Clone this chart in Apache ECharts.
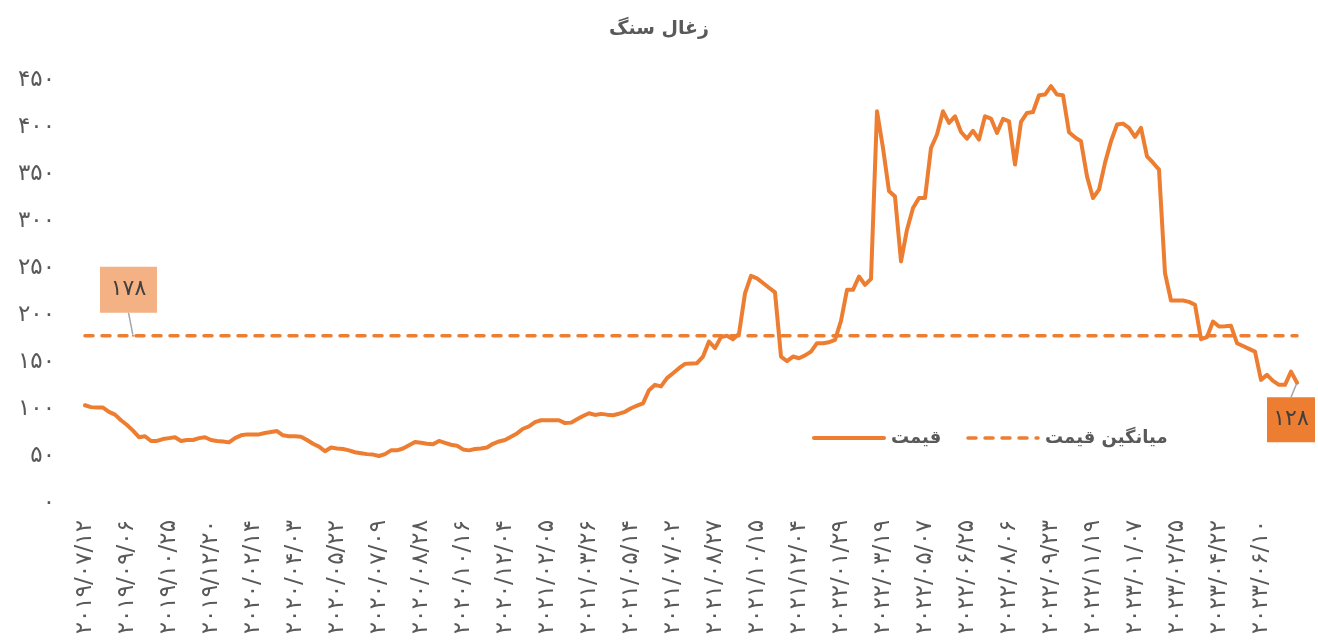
<!DOCTYPE html>
<html>
<head>
<meta charset="utf-8">
<script src="https://cdn.jsdelivr.net/npm/echarts@6/dist/echarts.min.js"></script>
<style>
html, body { margin: 0; padding: 0; background: #fff; }
#chart { width: 1318px; height: 642px; }
</style>
</head>
<body>
<div id="chart"></div>
<script>
// tick labels shown under the axis (one every 7 points)
var tickDates = ['2019/07/12', '2019/09/06', '2019/10/25', '2019/12/20', '2020/02/14', '2020/04/03',
    '2020/05/22', '2020/07/09', '2020/08/28', '2020/10/16', '2020/12/04', '2021/02/05', '2021/03/26',
    '2021/05/14', '2021/07/02', '2021/08/27', '2021/10/15', '2021/12/04', '2022/01/29', '2022/03/19',
    '2022/05/07', '2022/06/25', '2022/08/06', '2022/09/23', '2022/11/19', '2023/01/07', '2023/02/25',
    '2023/04/22', '2023/06/10'];
var tickStep = 7;

// weekly coal price
var prices = [
    104, 102, 101.5, 101.5, 97, 94, 88, 83, 77, 70,
    71, 66, 66, 68, 69, 70, 66, 67, 67, 69,
    70, 67, 66, 65.5, 64.5, 69, 72, 73, 73, 73,
    74.5, 75.5, 76.5, 72, 71, 71, 70.5, 67, 63, 60,
    55, 59, 58, 57.5, 56, 54, 53, 52, 51.5, 50,
    52, 56, 56, 58, 61.5, 65, 64, 63, 62.5, 66,
    64, 62, 61, 57, 56, 57.5, 58, 59, 63, 65.5,
    67, 70.5, 74, 79, 81.5, 86, 88, 88, 88, 88,
    85, 85.5, 89, 92.5, 95.5, 93.7, 94.8, 94, 93.4, 95,
    97, 100.8, 103.5, 106, 120, 125.7, 124, 132.8, 138, 143.4,
    148, 148.5, 148.8, 155.8, 171.8, 164.8, 176.5, 178, 174.3, 180,
    223, 241.7, 239, 234, 229, 224, 155.8, 151, 155.8, 154,
    157, 161, 170, 170, 171, 173.6, 193.8, 226.8, 226.8, 241,
    232, 238.5, 416.7, 377.7, 332, 326, 257, 290.7, 313.8, 324.5,
    324.5, 377.7, 392, 416.7, 404.4, 411.4, 394.7, 387.6, 396, 386.6,
    411.4, 409, 393.7, 408.6, 406, 360, 405.4, 415, 416, 433.8,
    434.5, 443.4, 434.5, 433.8, 394.4, 389, 384.8, 347.5, 324.5, 333.3,
    361.8, 384.8, 402.6, 403.6, 399, 389.5, 399, 368.8, 362, 354.6,
    244.6, 215.4, 215.4, 215.4, 214, 210.9, 174.3, 176.5, 193, 187.7,
    188, 188.5, 170, 167, 164, 161, 131, 136.3, 130, 125.7,
    125.7, 139.8, 128
];
var lastPrice = 128;
var avgPrice = 178;
var avgLabelIndex = 8;

var seriesNames = ['قیمت', 'میانگین قیمت'];
var titleText = 'زغال سنگ';

var faDigits = '۰۱۲۳۴۵۶۷۸۹';
function toFa(v) {
    return String(v).replace(/[0-9]/g, function (d) { return faDigits[+d]; });
}

// category names: each tick date plus weekly steps until the next one
var categories = prices.map(function (p, i) {
    var base = tickDates[Math.floor(i / tickStep)].split('/');
    var d = new Date(Date.UTC(+base[0], +base[1] - 1, +base[2] + (i % tickStep) * 7));
    var m = ('0' + (d.getUTCMonth() + 1)).slice(-2), day = ('0' + d.getUTCDate()).slice(-2);
    return d.getUTCFullYear() + '/' + m + '/' + day;
});

var font = 'DejaVu Sans';
var orange = '#ED7D31';
var grey = '#595959';

var myChart = echarts.init(document.getElementById('chart'));

var priceData = prices.map(function (v, i) {
    if (i !== prices.length - 1) return v;
    return {
        value: v,
        symbol: 'circle',
        symbolSize: 2,
        label: {
            show: true,
            position: 'inside',
            formatter: function () { return toFa(lastPrice); },
            backgroundColor: orange,
            color: '#404040',
            fontFamily: font,
            fontSize: 22,
            width: 48,
            height: 45,
            lineHeight: 45,
            align: 'center'
        },
        labelLine: { show: true, lineStyle: { color: '#a6a6a6', width: 1.5 } }
    };
});

var avgData = categories.map(function (c, i) {
    if (i !== avgLabelIndex) return avgPrice;
    return {
        value: avgPrice,
        symbol: 'circle',
        symbolSize: 2,
        label: {
            show: true,
            position: 'inside',
            formatter: function () { return toFa(avgPrice); },
            backgroundColor: '#F4B183',
            color: '#404040',
            fontFamily: font,
            fontSize: 22,
            width: 57,
            height: 46,
            lineHeight: 46,
            align: 'center'
        },
        labelLine: { show: true, lineStyle: { color: '#a6a6a6', width: 1.5 } }
    };
});

var option = {
    animation: false,
    backgroundColor: '#fff',
    title: {
        text: titleText,
        left: 'center',
        top: 15,
        textStyle: { fontFamily: font, fontSize: 19, fontWeight: 'bold', color: grey }
    },
    legend: {
        data: [
            { name: seriesNames[0], lineStyle: { width: 4 } },
            { name: seriesNames[1], lineStyle: { width: 3.5 } }
        ],
        left: 807,
        top: 424,
        itemWidth: 70,
        itemHeight: 3,
        itemGap: 25,
        textStyle: { fontFamily: font, fontSize: 18, fontWeight: 'bold', color: grey, padding: [0, 0, 0, 2] }
    },
    grid: { left: 85, right: 21, top: 80, bottom: 139 },
    xAxis: {
        type: 'category',
        data: categories,
        boundaryGap: false,
        axisLine: { show: false },
        axisTick: { show: false },
        axisLabel: {
            interval: tickStep - 1,
            rotate: 90,
            margin: 17,
            color: grey,
            fontFamily: font,
            fontSize: 23,
            formatter: function (v) { return toFa(v); }
        }
    },
    yAxis: {
        type: 'value',
        min: 0,
        max: 450,
        interval: 50,
        axisLine: { show: false },
        axisTick: { show: false },
        splitLine: { show: false },
        axisLabel: {
            margin: 30,
            color: grey,
            fontFamily: font,
            fontSize: 23,
            padding: [0, 0, 10, 0],
            formatter: function (v) { return toFa(v); }
        }
    },
    series: [
        {
            name: seriesNames[0],
            type: 'line',
            data: priceData,
            symbol: 'none',
            showAllSymbol: true,
            lineStyle: { color: orange, width: 4, cap: 'round', join: 'round' },
            itemStyle: { color: orange },
            labelLayout: { dx: -6, dy: 37 },
            z: 3
        },
        {
            name: seriesNames[1],
            type: 'line',
            data: avgData,
            symbol: 'none',
            showAllSymbol: true,
            lineStyle: { color: orange, width: 3.5, type: [8, 9], cap: 'round' },
            itemStyle: { color: orange },
            labelLayout: { dx: -4.5, dy: -46 },
            z: 2
        }
    ]
};

myChart.setOption(option);
</script>
</body>
</html>
